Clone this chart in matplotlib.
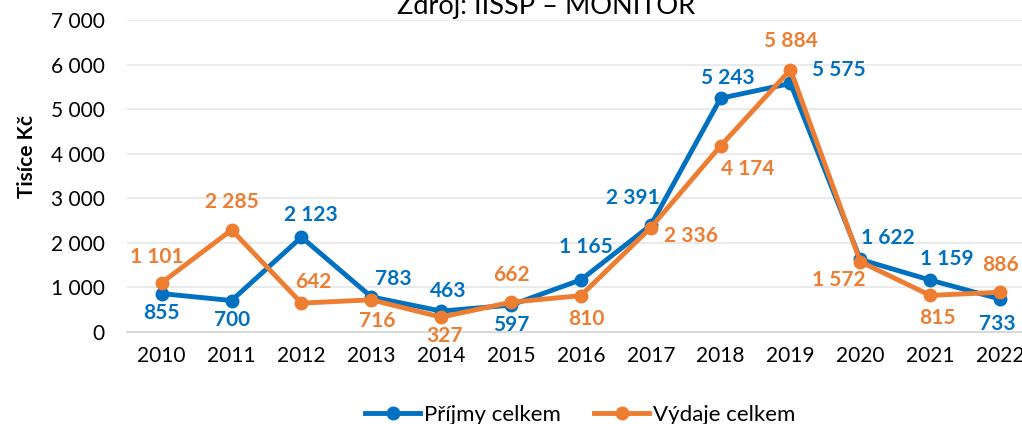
import matplotlib
matplotlib.use('Agg')
from matplotlib import pyplot as plt
from matplotlib.lines import Line2D

# data
roky = [2010, 2011, 2012, 2013, 2014, 2015, 2016, 2017, 2018, 2019, 2020, 2021, 2022]
prijmy = [855, 700, 2123, 783, 463, 597, 1165, 2391, 5243, 5575, 1622, 1159, 733]
vydaje = [1101, 2285, 642, 716, 327, 662, 810, 2336, 4174, 5884, 1572, 815, 886]

# label offsets in pixels (dx, dy)
off_prijmy = [(0, -19), (0, -19), (9, 22), (22, 18), (7, 20), (0, -20), (5, 33),
              (-18, 27), (7, 20), (48, 13), (28, 21), (17, 21), (-3, -25)]
off_vydaje = [(-5, 26), (0, 28), (12, 21), (6, -21), (3, -19), (0, 27), (5, -23),
              (40, -8), (27, -23), (0, 29), (-22, -18), (7, -23), (0, 27)]

MODRA = '#0070C0'
ORANZ = '#ED7D31'

plt.rcParams['font.family'] = ['Lato', 'DejaVu Sans']

def fmt(v):
	return '{:,}'.format(int(v)).replace(',', ' ')

fig = plt.figure(figsize=(10.22, 4.24), dpi=100)
ax = fig.add_axes([126.8 / 1022, 1 - 331.7 / 424, (1035 - 126.8) / 1022, (331.7 - 20) / 424])
x = list(range(len(roky)))

ax.plot(x, prijmy, color=MODRA, lw=3.5, marker='o', ms=9, zorder=3, solid_joinstyle='round')
ax.plot(x, vydaje, color=ORANZ, lw=3.5, marker='o', ms=9, zorder=4, solid_joinstyle='round')

for i in x:
	ax.annotate(fmt(prijmy[i]), (x[i], prijmy[i]), xytext=off_prijmy[i], textcoords='offset pixels',
		ha='center', va='center', color=MODRA, fontsize=15, fontweight='bold', zorder=5)
	ax.annotate(fmt(vydaje[i]), (x[i], vydaje[i]), xytext=off_vydaje[i], textcoords='offset pixels',
		ha='center', va='center', color=ORANZ, fontsize=15, fontweight='bold', zorder=5)

ax.set_xlim(-0.5, len(roky) - 0.5)
ax.set_ylim(0, 7000)
ax.set_yticks(range(0, 7001, 1000))
ax.set_yticklabels([fmt(v) for v in range(0, 7001, 1000)])
ax.set_xticks(x)
ax.set_xticklabels([str(r) for r in roky])
ax.tick_params(axis='both', length=0, labelsize=15, colors='#000000')
ax.tick_params(axis='y', pad=16)
ax.tick_params(axis='x', pad=10)
ax.grid(axis='y', color='#E6E6E6', lw=1.2)
ax.set_axisbelow(True)
for s in ['left', 'right', 'top']:
	ax.spines[s].set_visible(False)
ax.spines['bottom'].set_color('#D9D9D9')
ax.spines['bottom'].set_linewidth(1.5)

fig.text(27 / 1022, 1 - 156 / 424, 'Tisíce Kč', rotation=90, ha='center', va='center',
	fontsize=15, fontweight='bold')
fig.text(546 / 1022, 1 - 14 / 424, 'Zdroj: IISSP – MONITOR', ha='center', va='baseline',
	fontsize=19.5)

handles = [Line2D([], [], color=MODRA, lw=3.5, marker='o', ms=9),
	Line2D([], [], color=ORANZ, lw=3.5, marker='o', ms=9)]
fig.legend(handles, ['Příjmy celkem', 'Výdaje celkem'], loc='center', bbox_to_anchor=(580 / 1022, 1 - 415 / 424),
	ncol=2, frameon=False, fontsize=16, handlelength=2.5, handletextpad=0.15, columnspacing=1.5,
	borderaxespad=0, borderpad=0)

fig.savefig('out.png', dpi=100)
